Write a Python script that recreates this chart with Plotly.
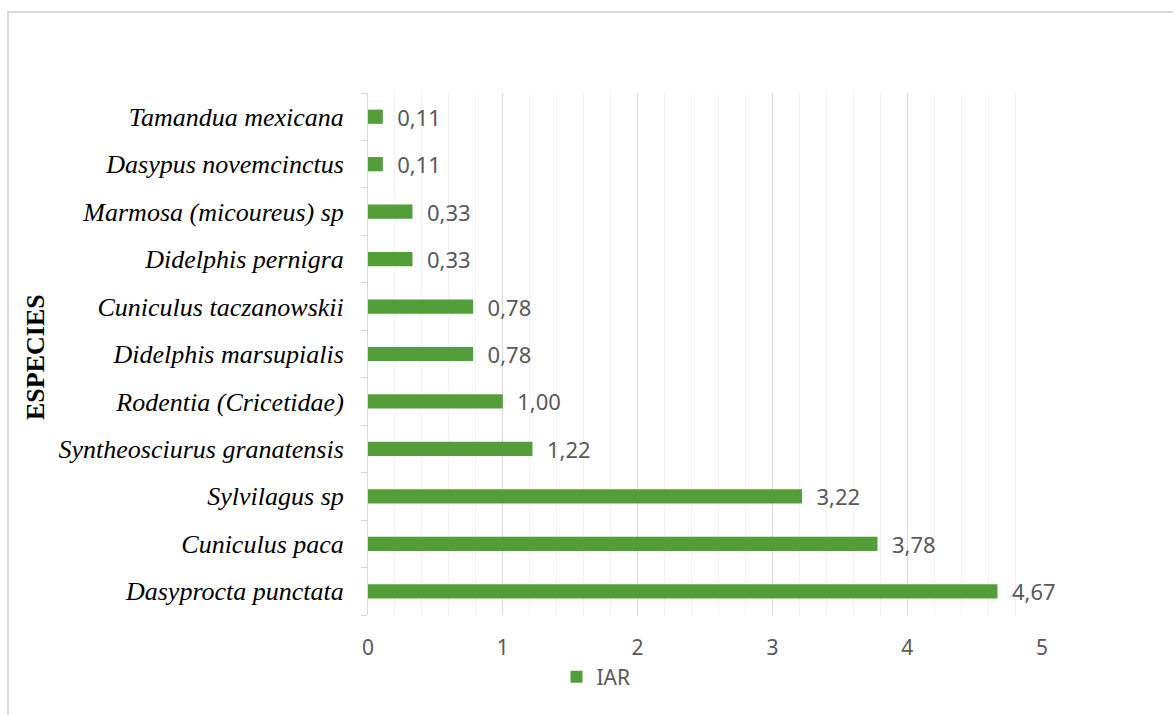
import plotly.graph_objects as go

species = [
    "Dasyprocta punctata",
    "Cuniculus paca",
    "Sylvilagus sp",
    "Syntheosciurus granatensis",
    "Rodentia (Cricetidae)",
    "Didelphis marsupialis",
    "Cuniculus taczanowskii",
    "Didelphis pernigra",
    "Marmosa (micoureus) sp",
    "Dasypus novemcinctus",
    "Tamandua mexicana",
]
iar = [4.67, 3.78, 3.22, 1.22, 1.00, 0.78, 0.78, 0.33, 0.33, 0.11, 0.11]
x_ticks = [0, 1, 2, 3, 4, 5]

W, H = 1173, 715
L, R, T, B = 368, 131, 93, 100
pw, ph = W - L - R, H - T - B

fig = go.Figure()
fig.add_trace(go.Bar(
    y=species, x=iar, orientation="h", name="IAR",
    marker=dict(color="#549E39", line=dict(width=0)),
    texttemplate="\u00a0\u00a0%{x:.2f}", textposition="outside",
    constraintext="none",
    textfont=dict(family="Noto Sans", size=22, color="#595959"),
    cliponaxis=False,
))

fig.update_layout(
    width=W, height=H,
    margin=dict(l=L, r=R, t=T, b=B),
    paper_bgcolor="white", plot_bgcolor="white",
    separators=",.",
    bargap=0.7,
    showlegend=True,
    legend=dict(orientation="h", x=(596 - L) / pw, xanchor="center",
                y=(H - B - 677) / ph, yanchor="middle",
                font=dict(family="Noto Sans", size=21, color="#595959")),
    xaxis=dict(range=[0, 5], tickvals=x_ticks, showgrid=True, gridcolor="#d9d9d9",
               gridwidth=1, zeroline=False, showline=False, ticks="",
               tickfont=dict(family="Noto Sans", size=21, color="#595959"),
               ticklabelstandoff=18,
               minor=dict(dtick=0.2, showgrid=True, gridcolor="#f2f2f2", gridwidth=1)),
    yaxis=dict(type="category", categoryorder="array", categoryarray=species,
               showline=True, linecolor="#d9d9d9", linewidth=1,
               ticks="outside", tickson="boundaries", ticklen=6, tickcolor="#d9d9d9",
               showgrid=False,
               tickfont=dict(family="Liberation Serif", size=26, color="#000000", style="italic"),
               ticklabelstandoff=18),
    annotations=[dict(text="<b>ESPECIES</b>", textangle=-90, showarrow=False,
                      xref="paper", yref="paper",
                      x=(35 - L) / pw, y=(H - B - 357) / ph,
                      xanchor="center", yanchor="middle",
                      font=dict(family="Liberation Serif", size=26, color="#000000"))],
    shapes=[dict(type="rect", xref="paper", yref="paper",
                 x0=(8 - L) / pw, x1=(W + 20 - L) / pw,
                 y0=(H - B - (H + 20)) / ph, y1=(H - B - 12) / ph,
                 line=dict(color="#d9d9d9", width=2), fillcolor="rgba(0,0,0,0)", layer="below")],
)

fig.write_html("out.html")
